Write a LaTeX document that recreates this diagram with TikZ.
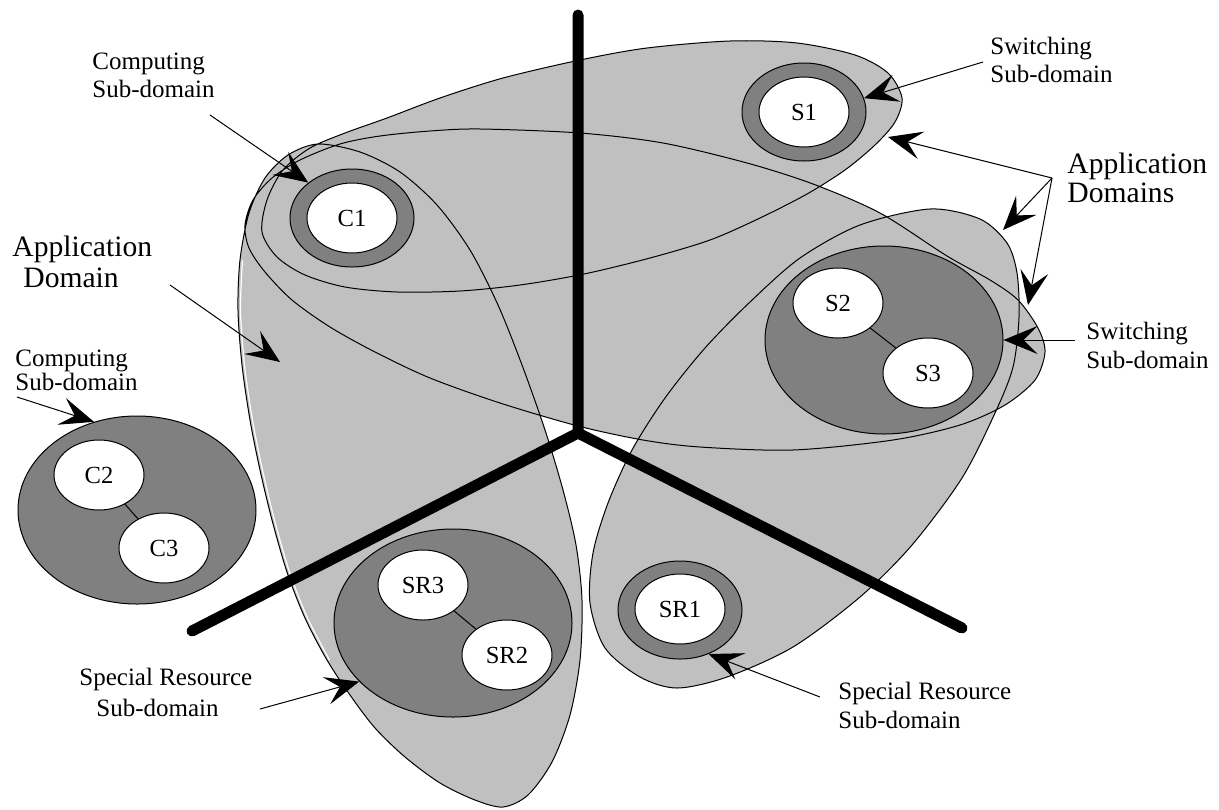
\documentclass[tikz,border=0pt]{standalone}
\usepackage{fontspec}
\setmainfont{Liberation Serif}
\usetikzlibrary{arrows.meta,shapes.geometric}
\definecolor{lgray}{gray}{0.753}
\definecolor{dgray}{gray}{0.502}
\newcommand\twoline[2]{\begin{tabular}[t]{@{}l@{}}#1\\#2\end{tabular}}
\begin{document}
\begin{tikzpicture}[x=0.5pt,y=-0.5pt,
  regions/.style={fill=lgray, draw=black, line width=0.5pt},
  ring/.style={ellipse, fill=dgray, draw=black, line width=0.5pt, minimum width=62pt, minimum height=49pt, inner sep=0pt},
  subdom/.style={ellipse, fill=dgray, draw=black, line width=0.5pt, minimum width=119pt, minimum height=94pt, inner sep=0pt},
  res/.style={ellipse, fill=white, draw=black, line width=0.5pt, minimum width=45pt, minimum height=35pt, inner sep=0pt, font=\fontsize{12.3}{14}\selectfont},
  link/.style={line width=0.5pt},
  axisline/.style={line width=5.5pt, line cap=round},
  pointer/.style={line width=0.5pt, -{Stealth[length=17pt,width=14pt,inset=7pt]}},
  lbl/.style={inner sep=0pt, anchor=base west},
]
\useasboundingbox (0,0) rectangle (1219,809);

% application domains (filled together, all outlines on top)
\path[regions]
  plot[smooth cycle] coordinates {(262,232) (267,200) (283,170) (310,148) (345,133) (387,118) (440,98) (503,78) (580,60) (647,48) (730,41) (797,43) (855,55) (888,73) (902,98) (895,122) (875,145) (845,170) (807,194) (760,218) (710,240) (650,258) (584,274) (520,285) (460,291) (397,292) (345,287) (305,275) (277,257)}
  plot[smooth cycle] coordinates {(340,144) (380,136) (430,131) (480,129) (580,133) (663,143) (747,163) (813,184) (880,213) (947,256) (990,280) (1018,300) (1038,328) (1045,352) (1035,380) (1005,405) (960,425) (893,440) (793,450) (700,447) (643,440) (578,426) (500,403) (430,378) (375,352) (330,327) (292,300) (265,272) (249,248) (245,225) (253,200) (272,178) (300,160)}
  plot[smooth cycle] coordinates {(318,144) (360,152) (400,172) (437,205) (470,250) (498,305) (522,365) (545,430) (563,490) (576,545) (582,600) (580,660) (570,715) (552,762) (528,795) (503,807) (475,800) (440,783) (405,757) (375,728) (350,695) (327,660) (305,618) (287,572) (272,520) (260,470) (250,420) (242,365) (238,310) (240,260) (249,213) (265,178) (288,155)}
  plot[smooth cycle] coordinates {(750,302) (800,258) (860,225) (930,209) (980,219) (1007,243) (1017,273) (1019,317) (1013,367) (995,413) (962,478) (912,545) (860,597) (793,647) (727,677) (677,688) (640,677) (605,648) (590,603) (593,553) (608,503) (632,450) (665,398) (705,348)};
\draw[white, line width=0.6pt] plot[smooth] coordinates {(242.5,260) (240.5,310) (244.5,365) (252.5,420) (262.5,470) (274.5,520) (289.5,572) (307.5,618) (329.5,660)};

% axes
\coordinate (Yc) at (578,433);
\coordinate (Yt) at (578,15);
\coordinate (Yl) at (192,631);
\coordinate (Yr) at (962,628);
\draw[axisline] (Yt) -- (Yc) -- (Yl);
\draw[axisline] (Yc) -- (Yr);

% sub-domains
\node[ring] (C1r) at (352,218) {};
\node[res] (C1) at (352,218) {C1};
\node[ring] (S1r) at (804,112) {};
\node[res] (S1) at (804,112) {S1};
\node[ring] (SR1r) at (680,610) {};
\node[res] (SR1) at (680,609) {SR1};

\node[subdom] (SDs) at (884,340) {};
\node[res] (S2) at (838,303) {S2};
\node[res] (S3) at (928,373) {S3};
\draw[link] (S2) -- (S3);

\node[subdom] (SDc) at (137,510) {};
\node[res] (C2) at (99,475) {C2};
\node[res] (C3) at (164,548) {C3};
\draw[link] (C2) -- (C3);

\node[subdom] (SDr) at (453,623) {};
\node[res] (SR3) at (423,585) {SR3};
\node[res] (SR2) at (507,655) {SR2};
\draw[link] (SR3) -- (SR2);

% labels
\node[lbl, font=\fontsize{12.5}{14.3}\selectfont] (tCompTop) at (92,69) {\twoline{Computing}{Sub-domain}};
\node[lbl, font=\fontsize{12.5}{14}\selectfont] (tSwTop) at (990,54) {\twoline{Switching}{Sub-domain}};
\node[lbl, font=\fontsize{14.8}{14.5}\selectfont] (tAppR) at (1067,173) {\twoline{Application}{Domains}};
\node[lbl, font=\fontsize{14.8}{15.5}\selectfont] (tAppL) at (12,256) {\twoline{Application}{\hspace*{5.5pt}Domain}};
\node[lbl, font=\fontsize{12.5}{11.5}\selectfont] (tCompL) at (15,366) {\twoline{Computing}{Sub-domain}};
\node[lbl, font=\fontsize{12.5}{14.5}\selectfont] (tSwR) at (1086,339) {\twoline{Switching}{Sub-domain}};
\node[lbl, font=\fontsize{12.5}{15.5}\selectfont] (tSRL) at (79,685) {\twoline{Special Resource}{\hspace*{8.5pt}Sub-domain}};
\node[lbl, font=\fontsize{12.5}{14.5}\selectfont] (tSRR) at (838,699) {\twoline{Special Resource}{Sub-domain}};

% pointers
\coordinate (pCompTop) at (210,115);
\draw[pointer] (pCompTop) -- (C1r.141);
\coordinate (pSwTop) at (983,62);
\draw[pointer] (pSwTop) -- (S1r.13);
\coordinate (vAD) at (1052,178);
\coordinate (hAD1) at (888,137);
\coordinate (hAD2) at (1003,230);
\coordinate (hAD3) at (1028,305);
\draw[pointer] (vAD) -- (hAD1);
\draw[pointer] (vAD) -- (hAD2);
\draw[pointer] (vAD) -- (hAD3);
\coordinate (pAppL) at (170,285);
\coordinate (hAppL) at (280,362);
\draw[pointer] (pAppL) -- (hAppL);
\coordinate (pCompL) at (17,397);
\draw[pointer] (pCompL) -- (SDc.116);
\coordinate (pSRL) at (260,709);
\draw[pointer] (pSRL) -- (SDr.212);
\coordinate (pSRR) at (820,697);
\draw[pointer] (pSRR) -- (SR1r.-57);
\coordinate (pSwR) at (1075,340);
\draw[pointer] (pSwR) -- (SDs.0);
\end{tikzpicture}
\end{document}
